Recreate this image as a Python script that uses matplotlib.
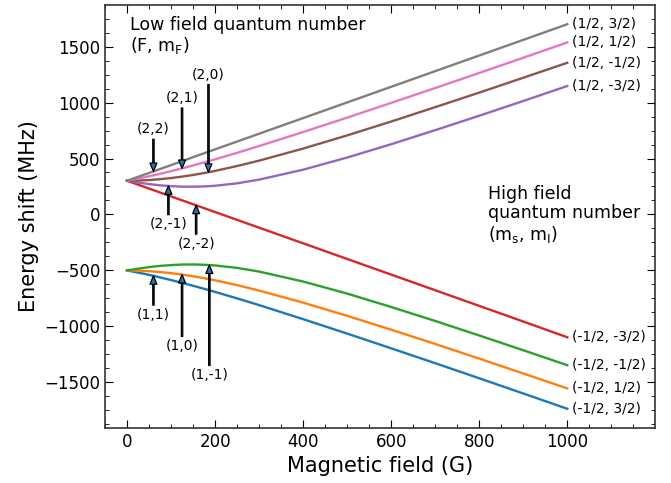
import matplotlib
matplotlib.use("Agg")
import matplotlib.pyplot as plt
import numpy as np
from matplotlib.ticker import MultipleLocator, AutoMinorLocator

# magnetic field (G) and energy shift (MHz)
field = [0, 25, 50, 75, 100, 125, 150, 175, 200, 250, 300,
         400, 500, 600, 700, 800, 900, 1000]

low_32 = [-502, -521, -541, -564, -588, -613, -639, -666, -694, -752, -812,
          -938, -1067, -1199, -1332, -1467, -1603, -1740]
low_12 = [-502, -504, -508, -516, -526, -539, -554, -571, -590, -633, -682,
          -790, -908, -1032, -1160, -1291, -1424, -1558]
low_m12 = [-502, -486, -472, -461, -454, -449, -448, -451, -457, -479, -512,
           -601, -709, -829, -954, -1084, -1216, -1350]
low_m32 = [301, 266, 231, 196, 161, 126, 91, 56, 21, -49, -119,
           -259, -399, -539, -679, -819, -959, -1100]
high_m32 = [301, 285, 271, 260, 253, 248, 248, 250, 256, 278, 311,
            400, 509, 628, 754, 883, 1015, 1149]
high_m12 = [301, 303, 307, 315, 325, 338, 353, 370, 389, 433, 481,
            589, 707, 831, 960, 1090, 1223, 1357]
high_12 = [301, 320, 341, 363, 387, 412, 438, 465, 493, 551, 612,
           737, 866, 998, 1131, 1266, 1402, 1539]
high_32 = [301, 336, 371, 406, 441, 476, 512, 547, 582, 652, 722,
           862, 1002, 1142, 1282, 1422, 1562, 1702]

series = [low_32, low_12, low_m12, low_m32, high_m32, high_m12, high_12, high_32]
end_labels = ["(-1/2, 3/2)", "(-1/2, 1/2)", "(-1/2, -1/2)", "(-1/2, -3/2)",
              "(1/2, -3/2)", "(1/2, -1/2)", "(1/2, 1/2)", "(1/2, 3/2)"]

# low field labels: (label, curve index, field at arrow tip, label y)
arrow_labels = ["(2,2)", "(2,1)", "(2,0)", "(2,-1)", "(2,-2)", "(1,1)", "(1,0)", "(1,-1)"]
arrow_curve = [7, 6, 5, 4, 3, 0, 1, 2]
arrow_field = [60, 125, 185, 94, 157, 60, 125, 187]
arrow_text_y = [760, 1040, 1250, -90, -265, -900, -1180, -1440]

fig = plt.figure(figsize=(6.71, 4.83), dpi=100)
ax = fig.add_axes([0.1565, 0.1139, 0.8195, 0.8757])

for i, ys in enumerate(series):
    ax.plot(field, ys, color=f"C{i}", lw=1.7)
    ax.text(field[-1] + 10, ys[-1], end_labels[i], fontsize=10, va="center", ha="left")

for lab, ci, b, ty in zip(arrow_labels, arrow_curve, arrow_field, arrow_text_y):
    tip = np.interp(b, field, series[ci])
    ax.annotate(lab, xy=(b, tip), xytext=(b, ty), fontsize=10,
                ha="center", va="center",
                arrowprops=dict(width=1.0, headwidth=5, headlength=6,
                                facecolor="C0", edgecolor="black", lw=0.9))

ax.text(0.045, 0.975, "Low field quantum number\n(F, m$_\\mathrm{F}$)",
        transform=ax.transAxes, fontsize=12.5, va="top", ha="left", linespacing=1.1)
ax.text(0.696, 0.575, "High field\nquantum number\n(m$_\\mathrm{s}$, m$_\\mathrm{I}$)",
        transform=ax.transAxes, fontsize=12.5, va="top", ha="left", linespacing=1.1)

ax.set_xlim(-50, 1199)
ax.set_ylim(-1912, 1874)
ax.xaxis.set_major_locator(MultipleLocator(200))
ax.yaxis.set_major_locator(MultipleLocator(500))
ax.xaxis.set_minor_locator(AutoMinorLocator(4))
ax.yaxis.set_minor_locator(AutoMinorLocator(4))
ax.tick_params(which="both", direction="in", top=True, right=True, labelsize=12)
ax.tick_params(which="major", length=6)
ax.tick_params(which="minor", length=3)
for sp in ax.spines.values():
    sp.set_color("#333333")
    sp.set_linewidth(1.2)

ax.set_xlabel("Magnetic field (G)", fontsize=15)
ax.set_ylabel("Energy shift (MHz)", fontsize=15)

fig.savefig("out.png", dpi=100)
